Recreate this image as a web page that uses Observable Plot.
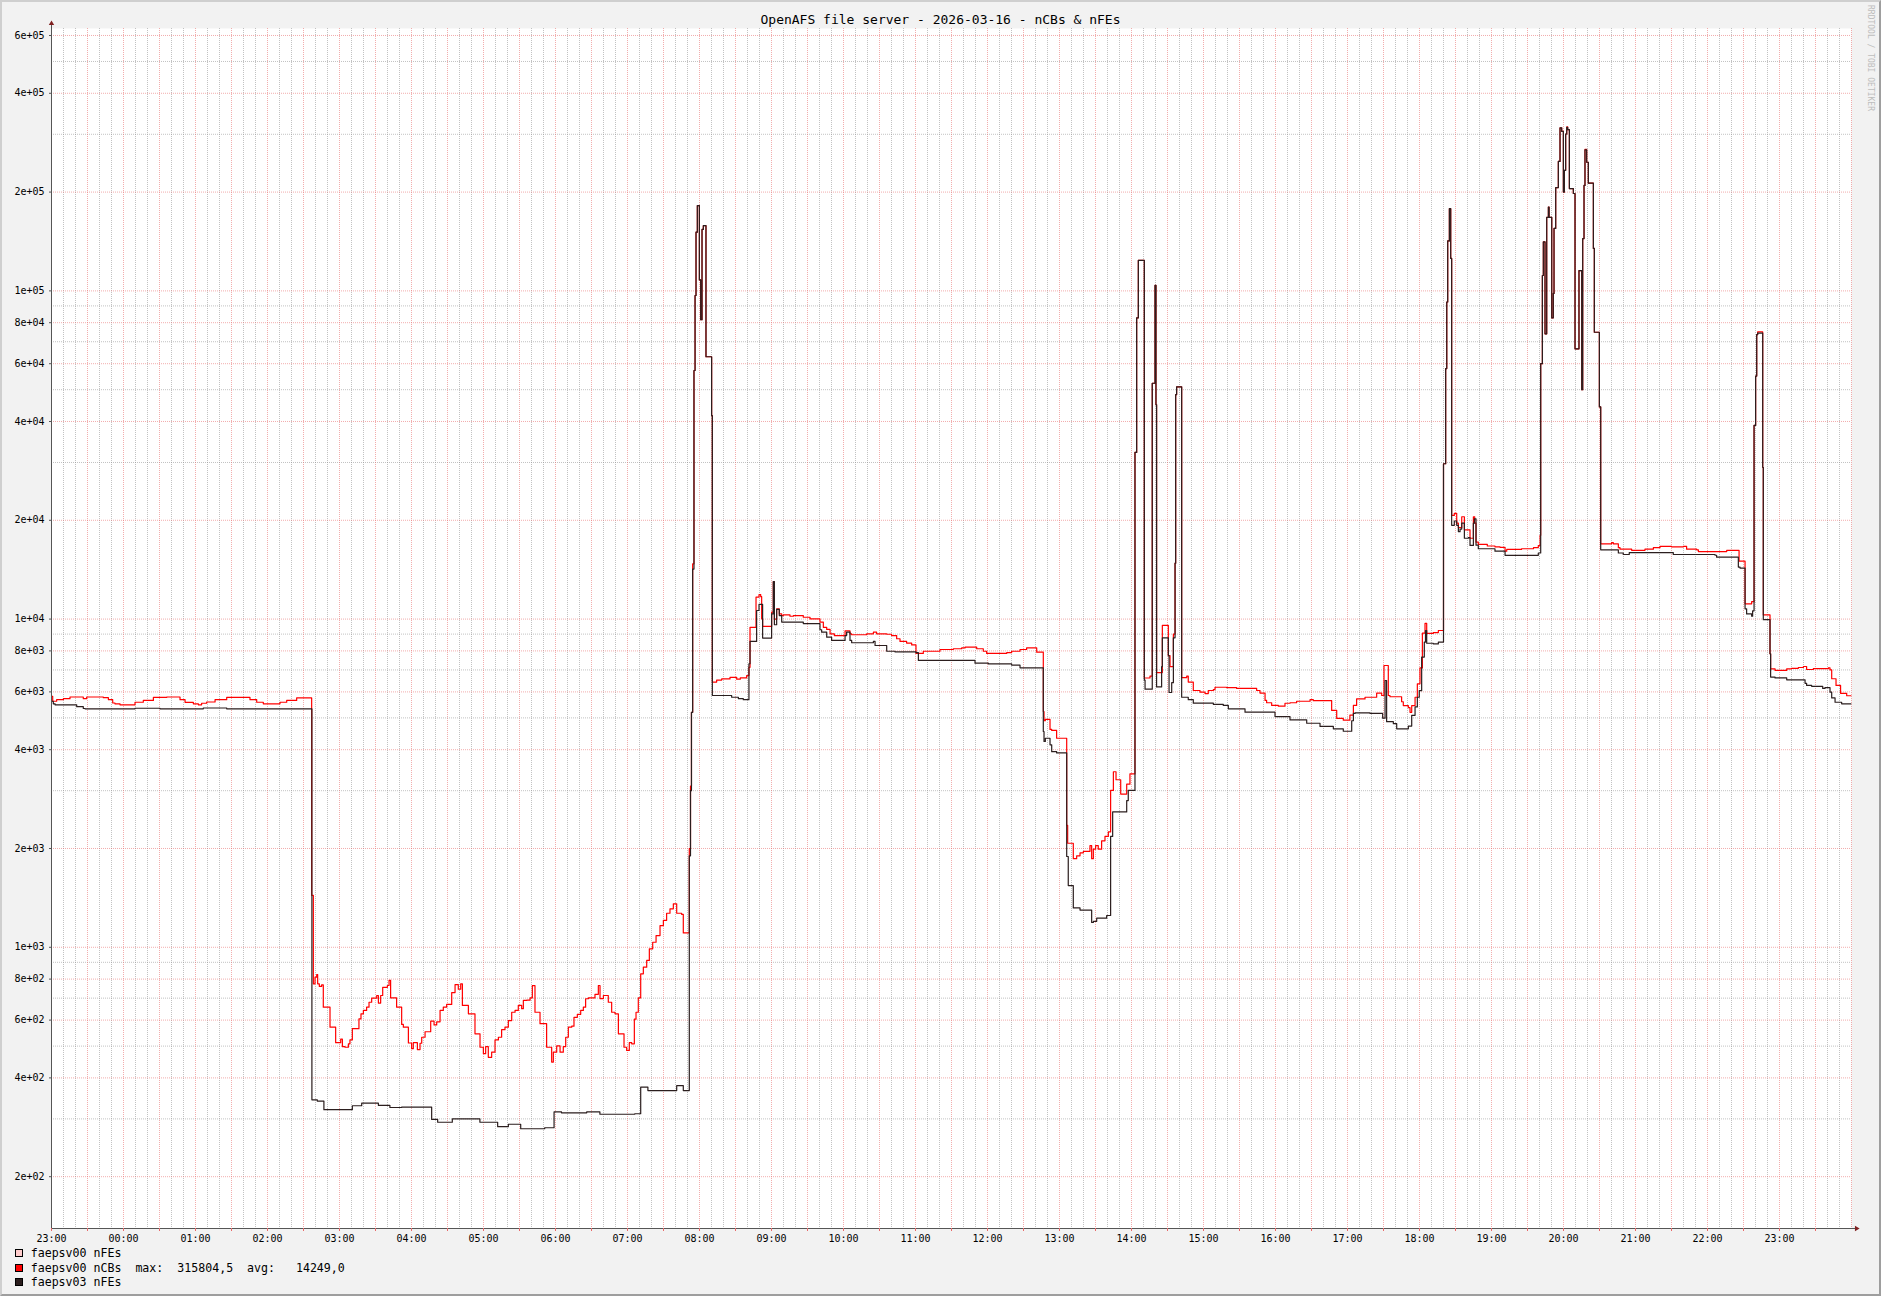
<!DOCTYPE html>
<html><head><meta charset="utf-8">
<script src="https://cdn.jsdelivr.net/npm/d3@7"></script>
<script src="https://cdn.jsdelivr.net/npm/@observablehq/plot@0.6"></script>
<style>
html,body{margin:0;padding:0;background:#f2f2f2;}
#wrap{position:relative;width:1881px;height:1296px;background:#f2f2f2;overflow:hidden;font-family:"DejaVu Sans Mono",monospace;color:#000;}
#chart{position:absolute;left:0;top:0;}
#title{position:absolute;left:0;width:1881px;top:12px;text-align:center;font-size:13px;line-height:15px;white-space:pre;}
#legend{position:absolute;left:15px;top:1246px;font-size:11.6px;white-space:pre;}
.row{display:flex;align-items:center;height:14.5px;line-height:14.5px;}
.sw{width:6px;height:6px;border:1px solid #000;margin-right:7.7px;flex:none;}
#wm{position:absolute;left:1866px;top:5px;writing-mode:vertical-rl;font-size:8px;line-height:9px;color:#bdbdbd;white-space:pre;}
#border{position:absolute;left:0;top:0;width:1881px;height:1296px;box-sizing:border-box;border-top:2px solid #cfcfcf;border-left:2px solid #cfcfcf;border-right:2px solid #9e9e9e;border-bottom:2px solid #9e9e9e;pointer-events:none;}
</style></head><body>
<div id="wrap">
<div id="chart"></div>
<div id="title"></div>
<div id="legend"></div>
<div id="wm"></div>
<div id="border"></div>
</div>
<script>
// ---------- texts ----------
const titleText = "OpenAFS file server - 2026-03-16 - nCBs & nFEs";
const watermarkText = "RRDTOOL / TOBI OETIKER";
const legendNames = ["faepsv00 nFEs", "faepsv00 nCBs  max:  315804,5  avg:   14249,0", "faepsv03 nFEs"];
const legendColors = ["#ffcccc", "#ff0000", "#2b1e1e"];

// ---------- axis ticks ----------
const yTicks = [200, 400, 600, 800, 1000, 2000, 4000, 6000, 8000, 10000, 20000, 40000, 60000, 80000, 100000, 200000, 400000, 600000];
const yTickLabels = ["2e+02", "4e+02", "6e+02", "8e+02", "1e+03", "2e+03", "4e+03", "6e+03", "8e+03", "1e+04", "2e+04", "4e+04", "6e+04", "8e+04", "1e+05", "2e+05", "4e+05", "6e+05"];
const yMinorTicks = [300, 500, 700, 900, 3000, 5000, 7000, 9000, 30000, 50000, 70000, 90000, 300000, 500000];
const yDomain = [139.06, 630150];
const startUTC = Date.UTC(2026, 2, 15, 23, 0);   // 23:00 the day before
const spanMinutes = 1500;                        // 25 hours shown
const xLabelEvery = 60, xMajorEvery = 30, xMinorEvery = 10;

// ---------- series: [minutes since 23:00, value] ----------
const faepsv03_nFEs = [
[0,5620],[1.5,5520],[3,5480],[21,5410],[26.5,5340],[28,5330],[69.6,5350],[90.4,5330],[126.5,5360],[146,5330],
[217,343],[221.5,340],[227,320],[250.7,329],[258.5,335],[272.4,330],[282,325],[291.8,326],[316.8,299],[321.8,293],
[334,300],[357,293],[371.8,284],[380.7,289],[391,280],[411,282],[418.8,315],[425,313],[446,315],[457,310],[486,311],
[491,375],[497,366],[521,379],[526.5,366],[531.5,1900],[532.5,3000],[533.3,5200],[534.3,14200],[535.4,57200],
[536.3,96800],[537.1,151000],[538.2,182000],[539.9,108000],[541,81700],[542.1,153900],[543.2,158000],[545.4,63000],
[550.1,41700],[550.7,5850],[566.8,5780],[572.4,5720],[576.5,5680],[581.2,7310],[582.1,8550],[587.6,10620],[589.6,11080],
[592.6,8750],[600.1,10370],[601.5,13000],[602.4,9610],[604.3,10700],[606.5,10250],[608.5,9790],[626.5,9690],[640.4,9280],
[641.8,9120],[646,8810],[650.1,8610],[661.3,8910],[662.6,9120],[665.4,8610],[666.8,8470],[684.9,8550],[686.3,8310],
[696,7980],[702.9,7950],[720.4,7900],[722.4,7480],[769.6,7340],[780.7,7300],[800.1,7240],[807.1,7105],
[826.5,4545],[827.1,4240],[828.2,4335],[832.1,4140],[833.5,3945],[837.6,3910],[846,1891],[847.3,1542],[851.5,1318],
[857.1,1298],[866.8,1190],[868.2,1200],[871,1227],[879.3,1250],[882.6,2176],[884.3,2585],[896,2800],[897.3,3005],
[902.9,32200],[904.3,82800],[905.7,123800],[910.7,6520],[911.3,6115],[917.3,52300],[919.6,104000],[920.4,45000],
[920.9,6215],[925.1,7160],[925.7,8770],[930.7,7740],[931.3,5975],[933.5,6400],[934.9,8770],[936.3,14800],[936.8,48300],
[937.6,51000],[941.8,5780],[947.3,5680],[951.5,5545],[968.2,5500],[976.5,5455],[980.7,5330],[994.6,5205],[1019.6,5045],
[1032.1,4930],[1046,4815],[1057.1,4710],[1068.2,4632],[1076.5,4553],[1083.5,4900],[1084.9,5160],[1086.3,5180],
[1098.8,5160],[1109.3,4990],[1111.3,6500],[1112.6,4870],[1118.2,4800],[1121,4630],[1130.7,4720],[1133.5,5090],
[1136.3,5400],[1138.2,5780],[1139.8,6050],[1141.8,7660],[1144,8510],[1145,9230],[1146,8440],[1151.5,8400],[1155.7,8510],
[1160,29740],[1161.8,58000],[1162.7,92500],[1163.5,142000],[1164.9,178000],[1166,125600],[1166.8,19300],[1169,19900],
[1171,19300],[1172.4,18470],[1173.8,18800],[1175.2,19600],[1177.4,17630],[1180.7,17700],[1182.1,16770],[1184.9,19600],
[1185.7,20210],[1187.1,16800],[1189,16380],[1202.9,16100],[1211.3,15640],[1239,15900],[1241,60000],[1242.4,111400],
[1243.2,141000],[1244.6,74000],[1246,167500],[1247.4,180000],[1248,167500],[1250.2,82800],[1251.5,98200],[1252.1,155000],
[1253.5,206400],[1255.7,248000],[1257.1,314000],[1258.5,306000],[1259.9,200000],[1260.7,233000],[1261.8,300600],
[1262.7,315000],[1263.5,310000],[1264.9,205000],[1268.2,198000],[1269.6,66600],[1272.9,115300],[1275.2,50000],
[1276,144300],[1277.1,209600],[1277.9,269000],[1279.3,246600],[1280.7,212900],[1284.9,134700],[1285.7,74800],
[1289.9,44300],[1291,16260],[1305.7,15900],[1309.8,15730],[1314.8,15950],[1351.5,15730],[1386.3,15650],[1387.6,15440],
[1405.7,14400],[1407.1,14300],[1411.3,10750],[1412.6,10370],[1416.8,10200],[1417.6,10600],[1418.8,38900],[1420.1,55000],
[1421,73600],[1421.8,74400],[1426,29000],[1426.5,9960],[1432.1,7840],[1432.6,6660],[1436.3,6620],[1446,6530],
[1461.3,6370],[1462.6,6280],[1466.8,6240],[1476,6150],[1477.9,6180],[1482.1,5990],[1483.5,5750],[1486.3,5580],
[1491.8,5520],[1499.5,5520]
];

const faepsv00_nCBs = [
[0,5820],[1,5620],[4.3,5680],[9.9,5720],[15.4,5790],[26.5,5720],[29.3,5790],[43.2,5760],[47.4,5680],[51,5550],
[52.9,5520],[57.1,5480],[69.6,5580],[76.5,5650],[84.9,5770],[96,5790],[107.1,5680],[111.3,5575],[118.2,5520],
[122.4,5480],[125.1,5540],[129.3,5590],[136.3,5680],[146,5770],[165.4,5680],[171,5580],[176.5,5520],[190.4,5580],
[196,5650],[204.3,5750],[216.8,1440],[218.2,774],[219.6,811],[221,826],[221.8,774],[223.2,760],[225.1,768],[226.5,657],
[232.1,571],[236.8,512],[241,525],[242.4,498],[244.6,496],[247.4,508],[248.7,522],[250.7,565],[256.2,605],[257.9,627],
[259.9,642],[262.6,657],[264.6,680],[266.8,700],[271,713],[272.4,676],[274.3,713],[276,755],[279.9,765],[281.3,793],
[282.6,701],[287.6,657],[291.8,582],[293.2,571],[297.4,511],[300.1,491],[301.5,512],[304.9,488],[307.1,510],[308.5,532],
[311.3,553],[316,596],[318.8,580],[321,593],[323.8,642],[326.5,657],[329.3,670],[333.5,728],[336.3,770],[339,745],
[341,774],[342.4,665],[347.4,627],[352.9,545],[357.1,496],[359.9,474],[361.8,498],[364,462],[366.8,479],[369.6,522],
[372.4,532],[375.1,561],[377.9,571],[380.7,598],[383.5,634],[386.3,642],[389,665],[391.8,650],[393.2,689],[396,690],
[398.8,701],[400.7,764],[402.9,634],[407.1,585],[412.6,496],[416.8,447],[418.2,479],[421,501],[423.8,479],[426.5,498],
[428.5,532],[430.7,571],[433.5,575],[435.4,612],[438.2,625],[441,642],[443.2,657],[445.1,697],[447.4,701],[452.9,719],
[455.7,765],[457.1,698],[459.9,713],[464,680],[466.8,634],[469.6,627],[472.4,545],[477.1,496],[479.3,485],[481.5,512],
[483.5,508],[485.7,604],[487.1,634],[489,701],[491,830],[493.2,870],[496,912],[498.2,989],[501,1036],[503.8,1086],
[507.1,1165],[509.9,1208],[512.6,1270],[515.4,1310],[518.2,1357],[521,1270],[525.1,1260],[526.5,1106],[531.5,2000],
[532.5,3100],[533.3,5200],[534.3,14740],[535.4,57200],[536.3,96800],[537.1,151000],[538.2,182000],[539.9,108000],
[541,81700],[542.1,153900],[543.2,158000],[545.4,63000],[550.1,41700],[550.7,6430],[554.3,6520],[558.5,6570],
[565.4,6640],[571,6560],[574,6620],[579.3,6730],[581.2,7130],[582.1,9440],[587.1,11660],[589.6,11880],[591,11700],
[591.8,10020],[592.6,9500],[600.1,10500],[601.5,13000],[602.4,10000],[604.3,10750],[606.5,10370],[608.5,10250],
[609.9,10300],[615.4,10200],[618.2,10250],[626.5,10130],[632.1,10010],[640.4,9790],[643.2,9440],[646,9300],[648.8,9020],
[652.4,8910],[661.3,9200],[665.4,9020],[666.8,8960],[679.3,9020],[684.9,9120],[687.6,9020],[696,8990],[700.1,8910],
[704.3,8710],[707.1,8550],[712.6,8450],[716.8,8340],[720.4,7860],[726.5,7980],[740.4,8080],[751.5,8120],[758.5,8170],
[761.3,8210],[771,8120],[776.5,7980],[779.3,7860],[796,7900],[800.1,7980],[807.1,8080],[812.6,8170],[821,7930],
[826.5,5230],[827.1,4900],[828.2,4945],[832.1,4610],[833.5,4580],[837.6,4335],[846,2353],[846.8,2075],[851.5,1862],
[854.3,1900],[857.1,1940],[859.9,1960],[865.4,2040],[866.8,1862],[868.2,1990],[870.1,2040],[872.3,1990],[875.1,2110],
[877.9,2176],[880.7,2247],[882.6,3006],[884.9,3427],[887.1,3240],[891,2930],[896,3140],[898.7,3375],[902.9,32200],
[904.3,82800],[905.7,123800],[910.7,6615],[915.4,6700],[917.3,52300],[919.6,104000],[920.4,45000],[920.9,6870],
[925.7,9575],[930.7,7740],[932.1,7160],[934.9,9000],[936.3,14800],[936.8,48300],[937.6,51000],[941.8,6630],[946,6700],
[947.3,6430],[951.5,6060],[957.1,5990],[961.3,5930],[964,6060],[968.2,6100],[969.6,6200],[979.3,6180],[987.6,6150],
[1004.3,6060],[1007.1,5950],[1011.3,5650],[1012.6,5560],[1016.8,5455],[1022.4,5430],[1027.9,5540],[1032.1,5560],
[1037.6,5620],[1048.8,5680],[1051.5,5640],[1066.8,5270],[1071,4980],[1076.5,4920],[1082,5100],[1084.9,5455],
[1087.6,5710],[1094.6,5780],[1104.3,5950],[1108.5,5850],[1110.4,7220],[1114,5850],[1115.4,5800],[1125.1,5600],
[1126.5,5450],[1130.7,5370],[1132.1,5200],[1133.5,5450],[1136.3,5780],[1138.2,6350],[1140.4,7100],[1142.4,9060],
[1144.6,9700],[1146,9040],[1151.5,9100],[1155.7,9230],[1160,29740],[1161.8,58000],[1162.7,92500],[1163.5,142000],
[1164.9,178000],[1166,125600],[1166.8,20700],[1169,21000],[1171,19600],[1172.4,19000],[1175.2,20500],[1177.4,18700],
[1182.1,17630],[1184.9,20500],[1186,19600],[1187.1,17170],[1189,16900],[1196.5,16700],[1202.9,16600],[1207.1,16550],
[1211.3,16100],[1212.7,16300],[1225,16380],[1235,16500],[1239,16750],[1240.5,18000],[1241,60000],[1242.4,111400],
[1243.2,141000],[1244.6,74000],[1246,167500],[1247.4,180000],[1248,167500],[1250.2,82800],[1251.5,98200],[1252.1,155000],
[1253.5,206400],[1255.7,248000],[1257.1,314000],[1258.5,306000],[1259.9,200000],[1260.7,233000],[1261.8,300600],
[1262.7,315800],[1263.5,310000],[1264.9,205000],[1268.2,198000],[1269.6,66600],[1272.9,115300],[1275.2,50000],
[1276,144300],[1277.1,209600],[1277.9,270000],[1279.3,246600],[1280.7,212900],[1284.9,134700],[1285.7,74800],
[1289.9,44300],[1291,16960],[1300.1,17100],[1301.5,16960],[1305.7,16500],[1307.1,16330],[1316.8,16200],[1327.9,16330],
[1334.9,16500],[1340.4,16650],[1350.1,16600],[1359.9,16650],[1362.6,16330],[1371,16260],[1372.4,16060],[1396,16200],
[1406.3,15010],[1411.3,11130],[1416.8,11300],[1418.8,38900],[1420.1,55000],[1421,73600],[1421.8,75000],[1426,29000],
[1426.5,10300],[1432.1,7840],[1432.6,7055],[1436.3,6975],[1446,7055],[1450.1,7080],[1455.7,7120],[1459.9,7170],
[1462.6,7020],[1468.2,7060],[1480.7,7100],[1482.1,7000],[1483.5,6580],[1487.1,6280],[1490.9,5940],[1496,5840],[1499.5,5840]
];

// ---------- build ----------
const toDate = m => new Date(startUTC + m * 60000);
const asRows = s => s.map(([m, v]) => ({t: toDate(m), v}));
const blackRows = asRows(faepsv03_nFEs);
const redRows = asRows(faepsv00_nCBs);

const xMinor = d3.range(0, spanMinutes + 1, xMinorEvery).filter(m => m % xMajorEvery !== 0).map(toDate);
const xMajor = d3.range(0, spanMinutes + 1, xMajorEvery).map(toDate);
const fmt = d3.utcFormat("%H:%M");
const labelOf = new Map(yTicks.map((v, i) => [v, yTickLabels[i]]));

const gridMinor = {stroke: "#8f8f8f", strokeOpacity: 0.55, strokeDasharray: "1,1", strokeWidth: 1};
const gridMajor = {stroke: "#e86a6a", strokeOpacity: 0.55, strokeDasharray: "1,1", strokeWidth: 1};

const chart = Plot.plot({
  width: 1881,
  height: 1246,
  marginLeft: 51,
  marginRight: 30,
  marginTop: 28,
  marginBottom: 18,
  style: {background: "transparent", fontFamily: "'DejaVu Sans Mono', monospace", fontSize: "10px", color: "#000", overflow: "visible"},
  x: {type: "utc", domain: [toDate(0), toDate(spanMinutes)], axis: null, label: null},
  y: {type: "log", domain: yDomain, axis: null, label: null},
  marks: [
    Plot.frame({fill: "white", stroke: "none"}),
    Plot.ruleY(yMinorTicks, gridMinor),
    Plot.ruleX(xMinor, gridMinor),
    Plot.ruleY(yTicks, gridMajor),
    Plot.ruleX(xMajor, gridMajor),
    Plot.line(redRows, {x: "t", y: "v", stroke: "#ff0000", strokeWidth: 1.2, curve: "step-after"}),
    Plot.line(blackRows, {x: "t", y: "v", stroke: "#2b1e1e", strokeWidth: 1.2, curve: "step-after"}),
    Plot.ruleX([toDate(0)], {stroke: "#555", strokeWidth: 1, insetTop: -5}),
    Plot.ruleY([yDomain[0]], {stroke: "#555", strokeWidth: 1, insetRight: -5}),
    Plot.dot([0], {frameAnchor: "top-left", symbol: "triangle", r: 2, fill: "#7f1f1f", stroke: "none", dy: -5}),
    Plot.dot([0], {frameAnchor: "bottom-right", symbol: "triangle", r: 2, fill: "#7f1f1f", stroke: "none", rotate: 90, dx: 5}),
    Plot.axisY({ticks: yTicks, tickFormat: () => "", tickSize: 2, stroke: "#555", label: null}),
    Plot.text(yTicks, {y: d => d, text: d => labelOf.get(d), frameAnchor: "left", textAnchor: "end", dx: -7, fill: "#000"}),
    Plot.axisX({ticks: xMajor.slice(0, -1), tickFormat: d => (d - startUTC) % (xLabelEvery * 60000) === 0 ? fmt(d) : "", tickSize: 3, tickPadding: 3, stroke: "#e86a6a", fill: "#000", label: null})
  ]
});
document.getElementById("chart").appendChild(chart);

document.getElementById("title").textContent = titleText;
document.getElementById("wm").textContent = watermarkText;
const legend = document.getElementById("legend");
legendNames.forEach((name, i) => {
  const row = document.createElement("div");
  row.className = "row";
  const sw = document.createElement("div");
  sw.className = "sw";
  sw.style.background = legendColors[i];
  const tx = document.createElement("span");
  tx.textContent = name;
  row.appendChild(sw);
  row.appendChild(tx);
  legend.appendChild(row);
});
</script>
</body></html>
